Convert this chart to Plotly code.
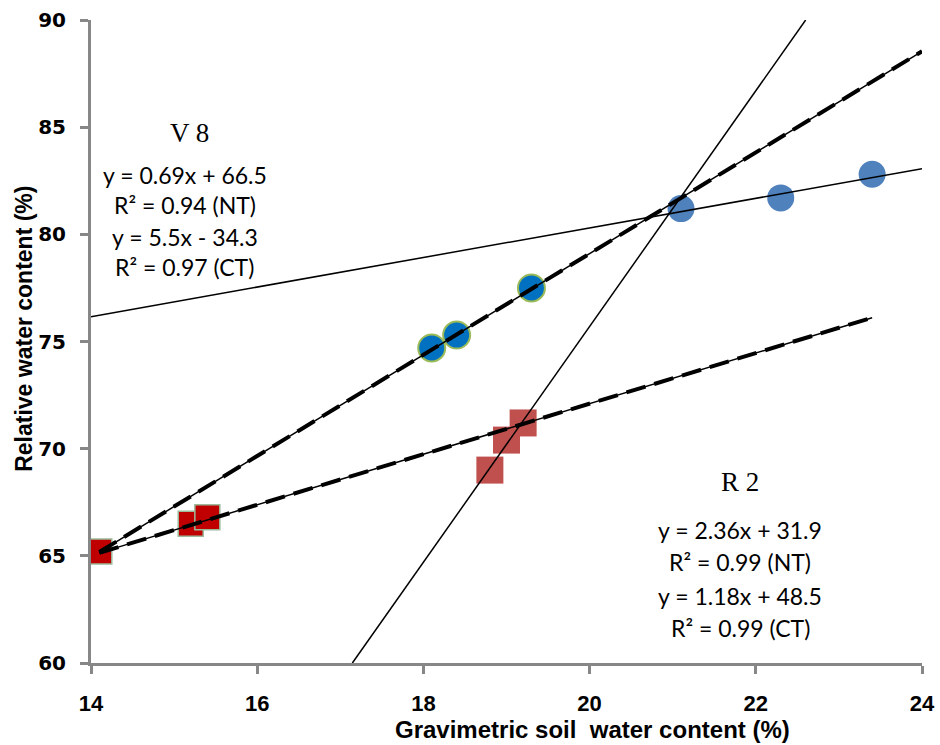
import plotly.graph_objects as go

# ---- data ----
v8_ct_x = [18.1, 18.4, 19.3]
v8_ct_y = [74.7, 75.3, 77.5]
v8_nt_x = [21.1, 22.3, 23.4]
v8_nt_y = [81.2, 81.7, 82.8]
r2_ct_x = [14.1, 15.2, 15.4]
r2_ct_y = [65.2, 66.5, 66.8]
r2_nt_x = [18.8, 19.0, 19.2]
r2_nt_y = [69.0, 70.4, 71.2]

# trend lines: (slope, intercept, x_start, x_end)
thin_lines = [(0.69, 66.5, 14.0, 24.0), (5.5, -34.3, 17.145, 22.6)]
dashed_lines = [(2.36, 31.9, 14.1, 24.0), (1.18, 48.5, 14.1, 23.4)]

x_ticks = [14, 16, 18, 20, 22, 24]
y_ticks = [60, 65, 70, 75, 80, 85, 90]

v8_text = ["y = 0.69x + 66.5", "R² = 0.94 (NT)", "y = 5.5x - 34.3", "R² = 0.97 (CT)"]
r2_text = ["y = 2.36x + 31.9", "R² = 0.99 (NT)", "y = 1.18x + 48.5", "R² = 0.99 (CT)"]

SANSB = "Liberation Sans, Arial, sans-serif"

fig = go.Figure()

fig.add_trace(go.Scatter(x=v8_ct_x, y=v8_ct_y, mode="markers",
                         marker=dict(symbol="circle", size=27, color="#0070C0",
                                     line=dict(color="#9BBB59", width=2))))
fig.add_trace(go.Scatter(x=v8_nt_x, y=v8_nt_y, mode="markers",
                         marker=dict(symbol="circle", size=27, color="#4F81BD",
                                     line=dict(width=0))))
fig.add_trace(go.Scatter(x=r2_ct_x, y=r2_ct_y, mode="markers",
                         marker=dict(symbol="square", size=25, color="#C00000",
                                     line=dict(color="#9BBB9B", width=1.5))))
fig.add_trace(go.Scatter(x=r2_nt_x, y=r2_nt_y, mode="markers",
                         marker=dict(symbol="square", size=27, color="#C0504D",
                                     line=dict(width=0))))

for m, b, x0, x1 in thin_lines:
    fig.add_trace(go.Scatter(x=[x0, x1], y=[m * x0 + b, m * x1 + b], mode="lines",
                             line=dict(color="black", width=1.5)))
for m, b, x0, x1 in dashed_lines:
    xs = [x0, x1]
    ys = [m * x0 + b, m * x1 + b]
    fig.add_trace(go.Scatter(x=xs, y=ys, mode="lines",
                             line=dict(color="black", width=1.5)))
    fig.add_trace(go.Scatter(x=xs, y=ys, mode="lines",
                             line=dict(color="black", width=4, dash="20px,9px")))

ann = []
ann.append(dict(x=15.19, y=84.73, text="V 8", showarrow=False,
                font=dict(family="Liberation Serif, serif", size=27, color="black")))
for t, yy in zip(v8_text, [82.77, 81.37, 79.87, 78.47]):
    ann.append(dict(x=15.13, y=yy, text=t, showarrow=False,
                    font=dict(family="Lato, sans-serif", size=23, color="black")))
ann.append(dict(x=21.81, y=68.44, text="R 2", showarrow=False,
                font=dict(family="Liberation Serif, serif", size=27, color="black")))
for t, yy in zip(r2_text, [66.2, 64.71, 63.12, 61.63]):
    ann.append(dict(x=21.81, y=yy, text=t, showarrow=False,
                    font=dict(family="Lato, sans-serif", size=23, color="black")))

# axis titles (placed like the reference, off-centre)
ann.append(dict(x=20.03, xref="x", y=-0.104, yref="paper", xanchor="center", yanchor="middle",
                text="Gravimetric soil  water content (%)", showarrow=False,
                font=dict(family=SANSB, size=24, color="black", weight="bold")))
ann.append(dict(x=-0.080, xref="paper", y=0.519, yref="paper", xanchor="center", yanchor="middle",
                text="Relative water content (%)", textangle=-90, showarrow=False,
                font=dict(family=SANSB, size=23, color="black", weight="bold")))

fig.update_layout(
    width=940, height=745,
    margin=dict(l=91, r=18, t=20, b=82),
    paper_bgcolor="white", plot_bgcolor="white",
    showlegend=False,
    annotations=ann,
    xaxis=dict(range=[14, 24], tickvals=x_ticks, showgrid=False, zeroline=False,
               showline=True, linecolor="#878787", linewidth=3,
               ticks="outside", tickcolor="#878787", tickwidth=3, ticklen=8,
               ticklabelstandoff=11, automargin=False,
               tickfont=dict(family=SANSB, size=22, color="black", weight="bold")),
    yaxis=dict(range=[60, 90], tickvals=y_ticks, showgrid=False, zeroline=False,
               showline=True, linecolor="#878787", linewidth=3,
               ticks="outside", tickcolor="#878787", tickwidth=3, ticklen=8,
               ticklabelstandoff=10, automargin=False,
               tickfont=dict(family="DejaVu Sans, Verdana, sans-serif", size=20,
                             color="black", weight="bold")),
)

fig.write_html("out.html")
